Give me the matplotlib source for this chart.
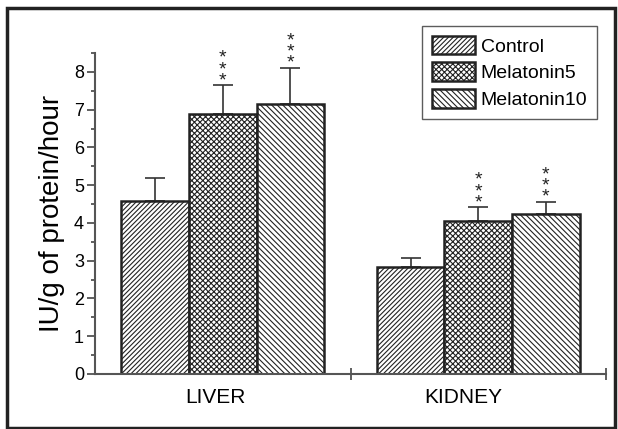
import numpy as np
import matplotlib
matplotlib.use("Agg")
import matplotlib.pyplot as plt
from matplotlib.patches import Rectangle

# data
organs = ["LIVER", "KIDNEY"]
groups = ["Control", "Melatonin5", "Melatonin10"]
means = {
    "Control": [4.58, 2.83],
    "Melatonin5": [6.88, 4.05],
    "Melatonin10": [7.16, 4.24],
}
errors = {
    "Control": [0.62, 0.23],
    "Melatonin5": [0.76, 0.36],
    "Melatonin10": [0.94, 0.32],
}
stars = {
    "Control": ["", ""],
    "Melatonin5": ["***", "***"],
    "Melatonin10": ["***", "***"],
}
hatches = {"Control": "/" * 7, "Melatonin5": "x" * 6, "Melatonin10": "\\" * 6}

plt.rcParams["font.family"] = ["Liberation Sans", "DejaVu Sans"]
plt.rcParams["hatch.linewidth"] = 0.8
plt.rcParams["hatch.color"] = "#222222"

fig = plt.figure(figsize=(6.18, 4.29), dpi=100)
ax = fig.add_axes([95 / 618, 1 - 374 / 429, (606 - 95) / 618, (374 - 53) / 429])

# outer frame
fig.patches.append(Rectangle((7 / 618, 1.5 / 429), 607.5 / 618, 419.5 / 429,
                             transform=fig.transFigure, fill=False,
                             edgecolor="#222222", linewidth=2.5))

width = 0.265
centers = np.array([0.5, 1.5])
for i, g in enumerate(groups):
    xs = centers + (i - 1) * width
    ax.bar(xs, means[g], width, color="white", edgecolor="#222222",
           linewidth=1.8, hatch=hatches[g], label=g, zorder=2)
    ax.errorbar(xs, means[g], yerr=[np.zeros(2), errors[g]], fmt="none",
                ecolor="#333333", elinewidth=1.2, capsize=7, capthick=1.2,
                zorder=1)
    for x, m, e, s in zip(xs, means[g], errors[g], stars[g]):
        if s:
            ax.text(x, m + e - 0.1, "\n".join(s), ha="center", va="bottom",
                    fontsize=14, linespacing=0.55, color="#222222")

ax.set_xlim(0, 2)
ax.set_ylim(0, 8.5)
ax.set_yticks(range(0, 9))
ax.set_yticks(np.arange(0.5, 8.6, 1), minor=True)
ax.tick_params(axis="y", which="major", length=6, width=1.2, labelsize=13,
               color="#444444", pad=2)
ax.tick_params(axis="y", which="minor", length=3, width=1.2, color="#444444")

ax.set_xticks([1, 2])
ax.set_xticklabels(["", ""])
ax.set_xticks([0.47, 1.44], minor=True)
ax.set_xticklabels(organs, minor=True)
ax.tick_params(axis="x", which="major", direction="inout", length=8, width=1.2,
               color="#444444")
ax.tick_params(axis="x", which="minor", length=0, labelsize=15, pad=10)

for side in ["top", "right"]:
    ax.spines[side].set_visible(False)
for side in ["left", "bottom"]:
    ax.spines[side].set_color("#555555")
    ax.spines[side].set_linewidth(1.5)

ax.set_ylabel("IU/g of protein/hour", fontsize=20, labelpad=6)

leg = ax.legend(loc="upper right", bbox_to_anchor=(597 / 618, 1 - 26 / 429),
                bbox_transform=fig.transFigure, fontsize=14, frameon=True,
                fancybox=False, edgecolor="#333333", handlelength=2.2,
                handleheight=1.1, handletextpad=0.3, labelspacing=0.35,
                borderpad=0.5, borderaxespad=0)
leg.get_frame().set_linewidth(1.0)

fig.savefig("out.png", dpi=100)
